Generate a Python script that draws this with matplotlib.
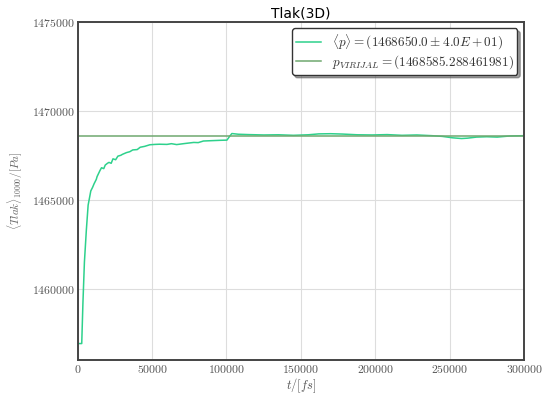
import matplotlib.pyplot as plt
import numpy as np

# values
t = [0, 1000, 2700, 3500, 4500, 5800, 7000, 8800, 10000, 11000, 12500, 13000,
     15000, 16000, 17500, 18500, 20000, 21000, 22500, 23700, 25500, 27000,
     29000, 30000, 32800, 35000, 37000, 40000, 42000, 45000, 48500, 52000,
     55000, 60000, 63000, 66500, 72000, 78000, 81000, 84500, 90000, 96000,
     100300, 102000, 103600, 108000, 115000, 125000, 135000, 145000, 155000,
     162000, 170000, 178000, 188000, 198000, 208000, 218000, 228000, 238000,
     245000, 252000, 258000, 262000, 268000, 275000, 282000, 290000, 300000]
p = [1456930, 1456930, 1456930, 1459200, 1461500, 1463300, 1464700, 1465500,
     1465700, 1465900, 1466150, 1466300, 1466650, 1466800, 1466750, 1466950,
     1467050, 1467100, 1467050, 1467300, 1467250, 1467450, 1467500, 1467550,
     1467650, 1467700, 1467800, 1467820, 1467950, 1468000, 1468090, 1468110,
     1468120, 1468110, 1468150, 1468100, 1468160, 1468220, 1468210, 1468300,
     1468320, 1468340, 1468350, 1468550, 1468720, 1468680, 1468660, 1468640,
     1468650, 1468620, 1468650, 1468700, 1468710, 1468690, 1468650, 1468640,
     1468660, 1468620, 1468640, 1468600, 1468560, 1468480, 1468440, 1468460,
     1468520, 1468540, 1468520, 1468580, 1468600]
p_mean = 1468650.0
p_virial = 1468585.288461981

plt.rcParams['font.family'] = 'serif'
plt.rcParams['font.serif'] = ['cmr10', 'DejaVu Serif']
plt.rcParams['mathtext.fontset'] = 'cm'
plt.rcParams['axes.formatter.use_mathtext'] = True

fig, ax = plt.subplots(figsize=(5.45, 3.94), dpi=100)
fig.subplots_adjust(left=0.1426, right=0.9615, top=0.945, bottom=0.086)

ax.plot(t, p, color='#2ed18c', lw=1.1,
        label=r'$\langle p\rangle = (%.1f \pm 4.0E+01)$' % p_mean)
ax.axhline(p_virial, color='#6fa86f', lw=1.1,
           label=r'$p_{VIRIJAL} = (%s)$' % repr(p_virial))

ax.set_xlim(0, 300000)
ax.set_ylim(1456000, 1475000)
ax.set_xticks(np.arange(0, 300001, 50000))
ax.set_yticks([1460000, 1465000, 1470000, 1475000])
ax.ticklabel_format(useOffset=False, style='plain')
ax.tick_params(length=0, labelsize=8.5, colors='#555555', pad=2)
ax.grid(color='#dddddd', lw=0.8)
for s in ax.spines.values():
    s.set_color('#444444')
    s.set_linewidth(1.4)

ax.set_xlabel(r'$t/[fs]$', fontsize=9, color='#555555', labelpad=1)
ax.set_ylabel(r'$\langle Tlak\rangle_{10000}/[Pa]$', fontsize=8, color='#666666',
              labelpad=5)
ax.set_title('Tlak(3D)', fontsize=10, family='DejaVu Sans', pad=3)

leg = ax.legend(loc='upper right', fontsize=9.5, shadow=True, fancybox=True,
                framealpha=1, borderaxespad=0.5, labelspacing=0.1,
                borderpad=0.3, handlelength=1.9)
leg.get_frame().set_edgecolor('#333333')
for txt in leg.get_texts():
    txt.set_color('#333333')

fig.savefig('out.png')
